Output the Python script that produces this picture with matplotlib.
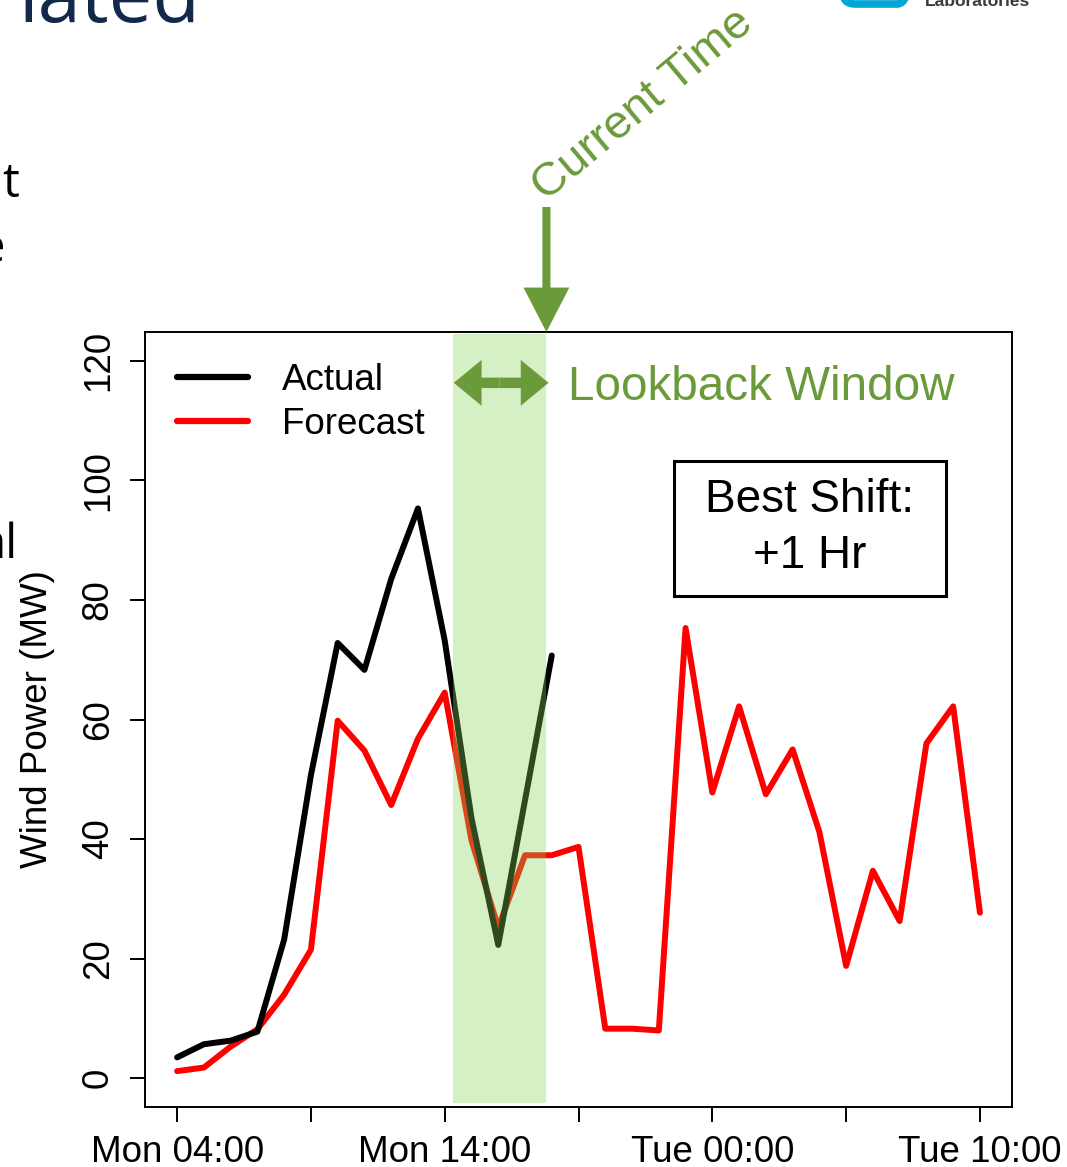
import numpy as np
import matplotlib
matplotlib.use("Agg")
import matplotlib.pyplot as plt
from matplotlib.lines import Line2D
from matplotlib.patches import Rectangle, FancyBboxPatch

plt.rcParams['font.family'] = ['Liberation Sans', 'DejaVu Sans']

# Hourly series starting Monday 04:00
hours = np.arange(31)
actual = [3.5, 5.7, 6.3, 7.8, 23.2, 50.7, 72.8, 68.3, 83.5, 95.3,
          73.2, 43.5, 22.3, 46.5, 70.7]
forecast = [1.2, 1.8, 5.3, 8.2, 14.0, 21.5, 59.8, 54.8, 45.7, 56.8,
            64.5, 39.8, 25.2, 37.3, 37.3, 38.7, 8.3, 8.3, 8.0, 75.3,
            47.8, 62.2, 47.5, 55.0, 41.2, 18.8, 34.7, 26.3, 56.0, 62.2,
            27.7]
tick_hours = [0, 5, 10, 15, 20, 25, 30]
tick_labels = ["Mon 04:00", "", "Mon 14:00", "", "Tue 00:00", "", "Tue 10:00"]
y_ticks = [0, 20, 40, 60, 80, 100, 120]

window_start, current_time = 10.3, 13.8
best_shift = "+1 Hr"

green = "#6B9A3A"

fig = plt.figure(figsize=(10.67, 11.67), dpi=100)

# background layer in pixel units for the slide pieces around the plot
bg = fig.add_axes([0, 0, 1, 1], zorder=-1)
bg.set_xlim(0, 1067)
bg.set_ylim(1167, 0)
bg.axis('off')
bg.text(18, 22, "lated", family="Open Sans", fontsize=56, color="#13294b",
        va="baseline", ha="left")
bg.text(19, 197, "t", family="Open Sans", fontsize=34, va="baseline", ha="right")
bg.text(5, 262, "e", family="Open Sans", fontsize=34, va="baseline", ha="right")
bg.text(18, 558, "al", family="Open Sans", fontsize=34, va="baseline", ha="right")
bg.add_patch(FancyBboxPatch((843, -40), 66, 44,
                            boxstyle="round,pad=0,rounding_size=12",
                            fill=False, edgecolor="#00a6d6", lw=5.5))
bg.text(925, 6, "Laboratories", fontsize=12.5, fontweight="bold",
        color="#3a3a3a", va="baseline", ha="left")
bg.text(643, 105, "Current Time", rotation=40, rotation_mode="anchor",
        ha="center", va="center", fontsize=34, color=green)

ax = fig.add_axes([0.1359, 0.0514, 0.8126, 0.6641])

ax.plot(hours[:len(forecast)], forecast, color="red", lw=4.3,
        solid_capstyle="round", solid_joinstyle="round", zorder=2)
ax.plot(hours[:len(actual)], actual, color="black", lw=4.3,
        solid_capstyle="round", solid_joinstyle="round", zorder=2)

# lookback window drawn over the lines
ax.axvspan(window_start, current_time, ymin=0.005, ymax=0.997,
           color=(0.533, 0.839, 0.329), alpha=0.345, lw=0, zorder=3)

ax.set_xlim(-1.2, 31.2)
ax.set_ylim(-4.8, 124.8)
ax.set_xticks(tick_hours)
ax.set_xticklabels(tick_labels)
ax.set_yticks(y_ticks)
ax.tick_params(axis='both', direction='out', length=11, width=1.4,
               labelsize=26.5)
ax.tick_params(axis='x', pad=9)
ax.tick_params(axis='y', pad=10, labelrotation=90)
for lab in ax.get_yticklabels():
    lab.set_va("center")
for s in ax.spines.values():
    s.set_linewidth(1.4)

ax.set_ylabel("Wind Power (MW)", fontsize=26.5)
ax.yaxis.set_label_coords(-0.104, 0.5)

handles = [Line2D([0], [0], color="black", lw=4.5, solid_capstyle="round"),
           Line2D([0], [0], color="red", lw=4.5, solid_capstyle="round")]
ax.legend(handles, ["Actual", "Forecast"], frameon=False, loc="upper left",
          bbox_to_anchor=(0.037, 0.96), borderpad=0, borderaxespad=0,
          handlelength=1.93, handletextpad=0.92, labelspacing=0.24,
          fontsize=26.5)

# double arrow across the lookback window
mid = (window_start + current_time) / 2
for end in (window_start + 0.04, current_time + 0.08):
    ax.annotate("", xy=(end, 116.3), xytext=(mid, 116.3),
                arrowprops=dict(arrowstyle="simple,head_length=20,head_width=33,tail_width=7.5",
                                mutation_scale=1, color=green, lw=0,
                                shrinkA=0, shrinkB=0), zorder=5)
ax.text(14.6, 113.5, "Lookback Window", fontsize=34.3, color=green,
        va="baseline", ha="left")

# current time marker above the plot
ax.annotate("", xy=(current_time, 124.8), xytext=(0, 90),
            textcoords="offset points", annotation_clip=False,
            arrowprops=dict(arrowstyle="simple,head_length=32,head_width=33,tail_width=5.8",
                            mutation_scale=1, color=green, lw=0,
                            shrinkA=0, shrinkB=0), zorder=5)

ax.add_patch(Rectangle((18.58, 80.7), 10.15, 22.6, fill=False, lw=2.2,
                       edgecolor="black", zorder=4))
ax.text(23.65, 92, "Best Shift:\n" + best_shift, ha="center", va="center",
        fontsize=33, linespacing=1.35, zorder=4)

fig.savefig("out.png", dpi=100)
